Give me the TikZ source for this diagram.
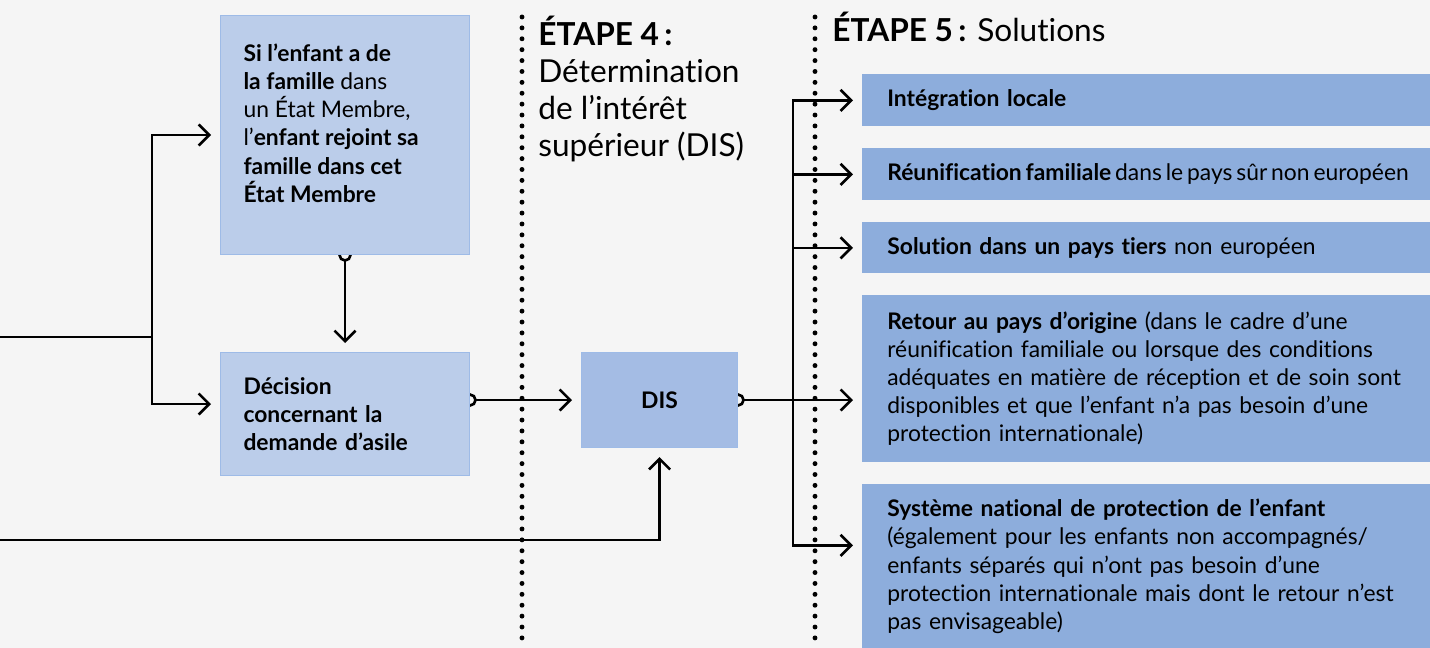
\documentclass[tikz,border=0pt]{standalone}
\usepackage{fontspec}
\setmainfont{Lato}[Ligatures=NoCommon]
\usepackage{tikz}
\usetikzlibrary{arrows.meta,positioning,calc}
\definecolor{bgcol}{HTML}{F5F5F5}
\definecolor{boxfill}{HTML}{BBCDEA}
\definecolor{boxline}{HTML}{9EBBE7}
\definecolor{disfill}{HTML}{A4BCE4}
\definecolor{solfill}{HTML}{8DADDC}
\newcommand\txt{\fontsize{13pt}{16pt}\selectfont}
\newcommand\head{\fontsize{18pt}{21pt}\selectfont}
\pgfdeclarelayer{back}
\pgfdeclarelayer{wires}
\pgfsetlayers{back,wires,main}

\begin{document}
\begin{tikzpicture}[x=0.02cm,y=-0.02cm,
  box/.style={draw=boxline,fill=boxfill,line width=0.6pt,anchor=north west,inner sep=0pt,font=\txt},
  sol/.style={fill=solfill,anchor=north west,text width=10.36cm,inner xsep=0.5cm,inner ysep=0pt,align=left,font=\txt},
  wire/.style={line width=1.5pt},
  arr/.style={wire,-{Straight Barb[length=6pt,width=12pt]},shorten >=0.18cm},
  ring/.style={wire,fill=bgcol},
  sep/.style={line width=2.8pt,line cap=round,dash pattern=on 0pt off 6.2pt}]
\useasboundingbox (0,0) rectangle (1430,648);
\begin{pgfonlayer}{back}
\fill[bgcol] (0,0) rectangle (1430,648);
\end{pgfonlayer}

\node[box,inner xsep=0.46cm,inner ysep=0.57cm] (famille) at (220,15)
  {\parbox[t][3.64cm][t]{4.06cm}{\raggedright\textbf{Si l’enfant a de}\\\textbf{la famille} dans\\un État Membre,\\l’\textbf{enfant rejoint sa}\\\textbf{famille dans cet}\\\textbf{État Membre}}};
\node[box,minimum width=4.98cm,minimum height=2.46cm,text width=4.06cm,inner xsep=0.46cm,align=left,font=\txt\bfseries] (decision) at (220,352)
  {Décision\\concernant la\\demande d’asile};
\node[box,fill=disfill,minimum width=3.12cm,minimum height=1.9cm,font=\txt\bfseries] (dis) at (581,352) {DIS};

\node[anchor=north west,inner sep=0pt,align=left,font=\head] (etape4) at (538,16)
  {\textbf{ÉTAPE 4\,:}\\Détermination\\de l’intérêt\\supérieur (DIS)};
\node[anchor=base west,inner sep=0pt,font=\head] (etape5) at (832,42) {\textbf{ÉTAPE 5\,:} Solutions};

\node[sol,minimum height=1.04cm] (integ) at (862,74) {\textbf{Intégration locale}};
\node[sol,minimum height=1.04cm] (reunif) at (862,148)
  {\mbox{\spaceskip=0.17em\textbf{Réunification familiale} dans le pays sûr non européen}};
\node[sol,minimum height=1.02cm] (tiers) at (862,222) {\textbf{Solution dans un pays tiers} non européen};
\node[sol,minimum height=3.34cm] (retour) at (862,295)
  {\textbf{Retour au pays d’origine} (dans le cadre d’une\\réunification familiale ou lorsque des conditions\\adéquates en matière de réception et de soin sont\\disponibles et que l’enfant n’a pas besoin d’une\\protection internationale)};
\node[sol,minimum height=3.28cm] (systeme) at (862,484)
  {\textbf{Système national de protection de l’enfant}\\(également pour les enfants non accompagnés/\\enfants séparés qui n’ont pas besoin d’une\\protection internationale mais dont le retour n’est\\pas envisageable)};

\begin{pgfonlayer}{back}
\coordinate (s4top) at (522,17);
\coordinate (s4bot) at (522,648);
\coordinate (s5top) at (815,17);
\coordinate (s5bot) at (815,648);
\draw[sep] (s4top) -- (s4bot);
\draw[sep] (s5top) -- (s5bot);
\end{pgfonlayer}

\begin{pgfonlayer}{wires}
\coordinate (inA) at (0,337);
\coordinate (split) at (152,337);
\coordinate (inB) at (0,540);
\coordinate (fork) at ([xshift=1.1cm]dis.east);
\draw[wire] (inA) -- (split);
\draw[arr] (split) |- (famille.west);
\draw[arr] (split) |- ([yshift=0.2cm]decision.west);
\draw[arr] (inB) -| (dis.south);
\draw[arr] (famille.south) -- (decision.north);
\draw[ring] (famille.south) circle[radius=0.11cm];
\draw[arr] (decision.east |- dis.west) -- (dis.west);
\draw[ring] (decision.east |- dis.west) circle[radius=0.11cm];
\draw[wire] (dis.east) -- (fork);
\draw[ring] (dis.east) circle[radius=0.11cm];
\foreach \s in {integ,reunif,tiers}
  \draw[arr] (fork) |- (\s.west);
\draw[arr] (fork) -- (retour.west |- fork);
\draw[arr] (fork) |- ([yshift=0.42cm]systeme.west);
\end{pgfonlayer}
\end{tikzpicture}
\end{document}
